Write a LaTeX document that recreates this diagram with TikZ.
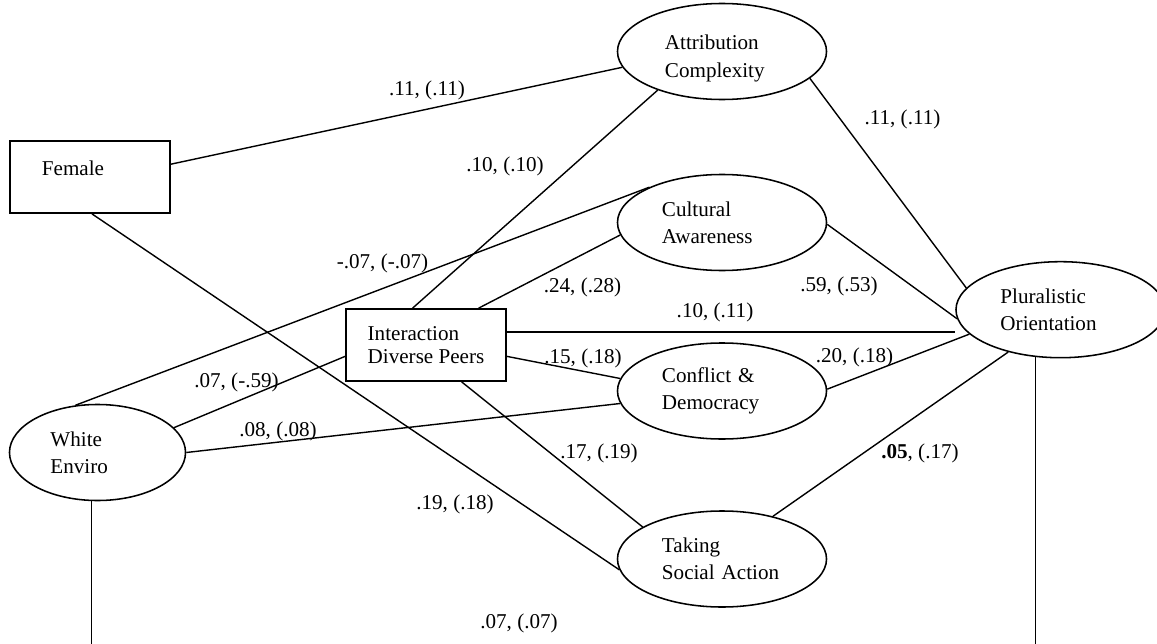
\documentclass[tikz,border=0pt]{standalone}
\usepackage{fontspec}
\setmainfont{Liberation Serif}
\usepackage{xcolor}
\definecolor{nodedraw}{rgb}{0,0,0}
\definecolor{linkdraw}{rgb}{0,0,0}
\usetikzlibrary{positioning,shapes.geometric}

\begin{document}
\begin{tikzpicture}[
  x=0.025cm, y=-0.025cm,
  font=\fontsize{15pt}{19.5pt}\selectfont,
  every node/.style={inner sep=0pt},
  varbox/.style ={rectangle, draw=nodedraw, line width=1.2pt, minimum width=4cm, minimum height=1.8cm},
  factor/.style ={ellipse, draw=nodedraw, line width=1.1pt, align=left, text width=3cm, minimum width=5.225cm, minimum height=2.4cm},
  link/.style   ={line width=1pt, draw=linkdraw},
  coef/.style   ={inner sep=0pt}
]

\useasboundingbox (0,0) rectangle (1157,644);
\coordinate (bottomedge) at (0,644);

\node[varbox, align=left, text width=2.4cm, inner xsep=0.8cm, text height=0.37cm, text depth=0.47cm] (female) at (90,177) {Female};
\node[varbox, align=left, font=\fontsize{15pt}{16.6pt}\selectfont] (peers) at (426,345) {Interaction\\Diverse~Peers};

\node[factor, text width=2.85cm] (attr) at (722,51.5) {\rule{0pt}{0.71cm}Attribution\\Complexity};
\node[factor] (cult)   at (722,222.5) {Cultural\\Awareness};
\node[factor] (confl)  at (722,391)   {Conflict~\&\\Democracy};
\node[factor] (action) at (722,559)   {Taking\\Social~Action};
\node[factor] (plural) at (1060.5,309.7) {Pluralistic\\Orientation};
\node[factor, text width=2.35cm, minimum width=4.4cm] (white) at (97.5,452.5) {White\\Enviro};

\draw[link] (female.9)   -- (attr.189);
\draw[link] (female.273) -- (action.186);
\draw[link] (attr.211)   -- (peers.110);
\draw[link] (attr.-17)   -- (plural.167);
\draw[link] (white.115)  -- (cult.154);
\draw[link] (white.18)   -- (peers.188);
\draw[link] (white.east) -- (confl.187);
\draw[link] (peers.35)   -- (cult.187);
\draw[link] (peers.9)    -- (peers.9 -| plural.west);
\draw[link] (peers.-8)   -- (confl.173);
\draw[link] (peers.-46)  -- (action.158);
\draw[link] (cult.-1)    -- (plural.185);
\draw[link] (confl.1)    -- (plural.195);
\draw[link] (action.40)  -- (plural.219);

% the covariance between the two ends runs below the page edge
\draw[link] (white.263)  -- (white.263 |- bottomedge);
\draw[link] (plural.242) -- (plural.242 |- bottomedge);

\node[coef] (cFA) at (427,90)    {.11, (.11)};
\node[coef] (cAP) at (902.5,119) {.11, (.11)};
\node[coef] (cAI) at (505,166)   {.10, (.10)};
\node[coef] (cWC) at (382.5,263) {-.07, (-.07)};
\node[coef] (cIC) at (582.5,287) {.24, (.28)};
\node[coef] (cCP) at (839,286)   {.59, (.53)};
\node[coef] (cIP) at (715,312)   {.10, (.11)};
\node[coef] (cIF) at (583,358)   {.15, (.18)};
\node[coef] (cFP) at (854.5,357.5) {.20, (.18)};
\node[coef] (cWI) at (236.5,382.5) {.07, (-.59)};
\node[coef] (cWF) at (278,431)   {.08, (.08)};
\node[coef] (cIA) at (599,453.5) {.17, (.19)};
\node[coef] (cTP) at (920,453)   {\textbf{.05}, (.17)};
\node[coef] (cFT) at (455,504)   {.19, (.18)};
\node[coef] (cWP) at (519,623)   {.07, (.07)};

\end{tikzpicture}
\end{document}
